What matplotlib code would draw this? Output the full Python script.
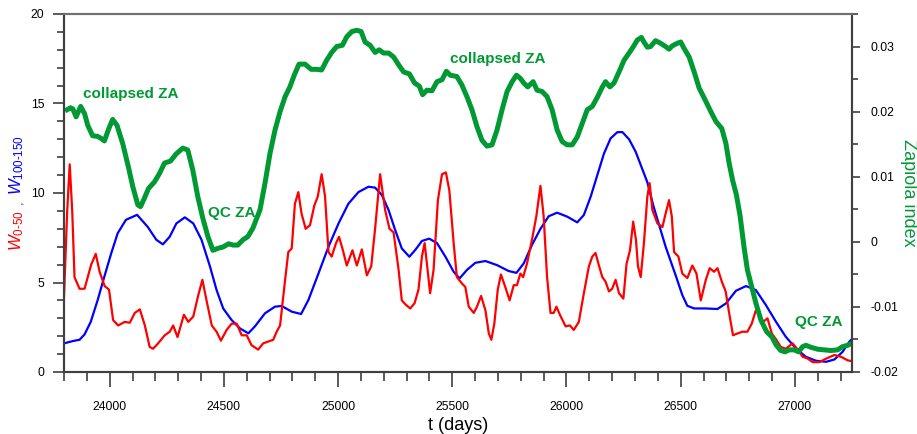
import matplotlib
matplotlib.use("Agg")
import matplotlib.pyplot as plt
from matplotlib.ticker import MultipleLocator

plt.rcParams['font.family'] = ['Liberation Sans', 'DejaVu Sans']
plt.rcParams['mathtext.fontset'] = 'custom'
plt.rcParams['mathtext.rm'] = 'Liberation Sans'
plt.rcParams['mathtext.it'] = 'Liberation Sans:italic'

# W_0-50 (red)
red_t = [23800, 23814, 23825, 23836, 23846, 23868, 23890, 23919, 23939, 23956,
         23978, 23997, 24015, 24037, 24066, 24088, 24110, 24132, 24154, 24175,
         24190, 24212, 24241, 24263, 24278, 24297, 24325, 24344, 24366, 24388,
         24406, 24424, 24447, 24468, 24487, 24512, 24534, 24556, 24578, 24600,
         24621, 24650, 24672, 24694, 24716, 24731, 24746, 24765, 24782, 24797,
         24811, 24826, 24840, 24858, 24877, 24896, 24911, 24928, 24943, 24958,
         24972, 24991, 25004, 25019, 25038, 25063, 25082, 25104, 25126, 25145,
         25162, 25184, 25206, 25225, 25243, 25265, 25279, 25297, 25316, 25335,
         25352, 25367, 25379, 25389, 25403, 25418, 25437, 25455, 25472, 25487,
         25506, 25520, 25542, 25557, 25572, 25594, 25608, 25626, 25645, 25660,
         25671, 25684, 25699, 25713, 25732, 25751, 25769, 25783, 25798, 25810,
         25827, 25849, 25868, 25886, 25900, 25915, 25930, 25944, 25956, 25971,
         25996, 26015, 26032, 26054, 26076, 26098, 26113, 26127, 26142, 26157,
         26171, 26186, 26200, 26215, 26230, 26249, 26263, 26278, 26292, 26304,
         26313, 26325, 26339, 26354, 26364, 26376, 26398, 26420, 26434, 26449,
         26461, 26471, 26490, 26507, 26529, 26551, 26569, 26588, 26610, 26627,
         26646, 26661, 26680, 26697, 26712, 26729, 26748, 26770, 26792, 26811,
         26829, 26843, 26861, 26880, 26899, 26919, 26938, 26960, 26990, 27012,
         27034, 27056, 27078, 27107, 27137, 27173, 27202, 27231, 27253]
red_w = [4.2, 9.0, 11.6, 9.0, 5.3, 4.65, 4.65, 6.0, 6.6, 5.6,
         4.8, 4.6, 2.9, 2.6, 2.8, 2.75, 3.3, 3.5, 2.6, 1.4,
         1.3, 1.6, 2.05, 2.25, 2.6, 1.95, 3.2, 2.8, 3.1, 4.3,
         5.15, 4.0, 2.6, 2.25, 1.75, 2.35, 2.7, 2.7, 2.05, 2.05,
         1.5, 1.25, 1.6, 1.7, 1.8, 2.25, 2.6, 4.8, 6.7, 6.9,
         9.4, 10.05, 8.85, 8.0, 8.2, 9.3, 9.8, 11.05, 9.8, 6.7,
         6.45, 7.2, 7.55, 6.9, 5.95, 6.8, 5.95, 6.85, 5.4, 5.9,
         8.0, 11.05, 9.05, 8.0, 7.8, 5.7, 4.0, 3.75, 3.55, 3.85,
         4.6, 6.45, 7.2, 6.05, 4.4, 5.7, 9.6, 11.05, 11.15, 10.15,
         7.2, 5.3, 4.95, 4.75, 3.65, 3.3, 3.65, 4.25, 3.45, 2.15,
         1.8, 2.7, 4.6, 5.45, 4.75, 4.0, 4.85, 4.85, 5.5, 5.3,
         6.05, 7.4, 8.7, 10.4, 8.7, 5.3, 3.3, 3.3, 3.65, 3.2,
         2.55, 2.6, 2.35, 2.8, 4.4, 5.9, 6.45, 6.65, 5.95, 5.3,
         5.05, 4.5, 4.65, 5.15, 4.4, 4.1, 6.05, 6.8, 8.4, 7.4,
         5.9, 5.3, 7.2, 9.8, 10.55, 9.05, 8.3, 8.1, 8.85, 9.6,
         8.7, 6.7, 6.45, 5.5, 5.25, 5.95, 5.5, 4.0, 5.15, 5.8,
         5.6, 5.8, 5.05, 4.5, 3.3, 2.05, 2.15, 2.25, 2.25, 2.7,
         3.45, 3.3, 2.8, 3.0, 2.15, 1.8, 1.4, 1.3, 1.6, 1.25,
         0.85, 0.75, 0.55, 0.55, 0.75, 0.95, 0.85, 0.65, 0.6]

# W_100-150 (blue)
blue_t = [23800, 23839, 23868, 23890, 23917, 23947, 23976, 24006, 24035, 24071,
          24120, 24167, 24204, 24233, 24263, 24292, 24329, 24366, 24402, 24439,
          24468, 24497, 24534, 24570, 24607, 24636, 24680, 24724, 24753, 24797,
          24838, 24870, 24914, 24958, 25002, 25045, 25089, 25133, 25162, 25192,
          25221, 25250, 25279, 25312, 25338, 25367, 25399, 25433, 25470, 25506,
          25532, 25564, 25601, 25645, 25696, 25747, 25781, 25813, 25849, 25886,
          25922, 25959, 26003, 26047, 26076, 26106, 26135, 26164, 26193, 26223,
          26245, 26274, 26303, 26333, 26354, 26380, 26434, 26478, 26507, 26529,
          26559, 26610, 26661, 26698, 26742, 26786, 26829, 26873, 26917, 26960,
          27004, 27048, 27092, 27137, 27173, 27209, 27238, 27253]
blue_w = [1.6, 1.73, 1.8, 2.1, 2.8, 4.0, 5.3, 6.6, 7.75, 8.5,
          8.78, 8.1, 7.39, 7.13, 7.56, 8.3, 8.64, 8.3, 7.39, 5.9,
          4.58, 3.55, 2.9, 2.44, 2.16, 2.55, 3.28, 3.65, 3.69, 3.37,
          3.24, 4.02, 5.5, 7.0, 8.3, 9.4, 10.05, 10.35, 10.3, 9.88,
          9.05, 7.93, 6.9, 6.44, 6.82, 7.32, 7.45, 7.2, 6.44, 5.6,
          5.23, 5.7, 6.1, 6.2, 5.97, 5.64, 5.54, 6.07, 7.1, 8.0,
          8.7, 8.9, 8.68, 8.36, 8.77, 9.8, 11.0, 12.2, 13.05, 13.4,
          13.4, 13.0, 12.3, 11.3, 10.6, 9.3, 7.0, 5.4, 4.3, 3.7,
          3.55, 3.55, 3.52, 3.83, 4.54, 4.8, 4.58, 3.74, 2.81, 1.97,
          1.32, 0.85, 0.63, 0.57, 0.7, 1.13, 1.69, 1.88]

# Zapiola index (green, right axis)
za_t = [23814, 23829, 23839, 23853, 23873, 23890, 23904, 23925, 23947, 23962,
        23977, 23994, 24013, 24032, 24057, 24082, 24101, 24123, 24135, 24152,
        24170, 24196, 24218, 24240, 24266, 24291, 24320, 24342, 24364, 24386,
        24408, 24430, 24452, 24474, 24496, 24521, 24540, 24561, 24583, 24605,
        24627, 24658, 24680, 24702, 24724, 24746, 24768, 24789, 24808, 24829,
        24855, 24882, 24906, 24928, 24950, 24972, 24994, 25019, 25038, 25060,
        25082, 25101, 25118, 25140, 25162, 25180, 25199, 25221, 25243, 25265,
        25287, 25312, 25335, 25356, 25370, 25389, 25411, 25433, 25455, 25474,
        25491, 25520, 25542, 25564, 25586, 25608, 25630, 25652, 25674, 25696,
        25718, 25740, 25762, 25781, 25798, 25813, 25830, 25854, 25871, 25893,
        25915, 25937, 25959, 25981, 26003, 26025, 26047, 26069, 26091, 26113,
        26135, 26157, 26171, 26190, 26208, 26230, 26252, 26274, 26293, 26310,
        26328, 26339, 26354, 26368, 26390, 26412, 26434, 26449, 26463, 26485,
        26500, 26515, 26537, 26559, 26581, 26607, 26632, 26654, 26680, 26698,
        26712, 26727, 26744, 26760, 26778, 26792, 26811, 26829, 26851, 26876,
        26899, 26919, 26938, 26957, 26975, 26997, 27016, 27034, 27048, 27070,
        27100, 27129, 27158, 27187, 27209, 27231, 27253]
za_v = [0.0203, 0.0206, 0.0204, 0.0192, 0.0208, 0.0197, 0.0179, 0.0163, 0.0162, 0.0159,
        0.0155, 0.0172, 0.0188, 0.0179, 0.0151, 0.0115, 0.0085, 0.0057, 0.0054, 0.0067,
        0.0082, 0.0092, 0.0105, 0.0121, 0.0124, 0.0135, 0.0144, 0.0141, 0.0110, 0.0069,
        0.0036, 0.0008, -0.0013, -0.0010, -0.0008, -0.0003, -0.0005, -0.0005, 0.0003, 0.0008,
        0.0021, 0.0049, 0.0090, 0.0136, 0.0172, 0.0200, 0.0223, 0.0238, 0.0256, 0.0273,
        0.0273, 0.0265, 0.0265, 0.0264, 0.0279, 0.0291, 0.0300, 0.0302, 0.0315, 0.0323,
        0.0325, 0.0323, 0.0307, 0.0302, 0.0291, 0.0295, 0.0290, 0.0290, 0.0284, 0.0272,
        0.0261, 0.0258, 0.0244, 0.0239, 0.0226, 0.0233, 0.0232, 0.0246, 0.0249, 0.0262,
        0.0256, 0.0254, 0.0241, 0.0223, 0.0203, 0.0177, 0.0156, 0.0147, 0.0149, 0.0172,
        0.0203, 0.0231, 0.0246, 0.0256, 0.0251, 0.0244, 0.0238, 0.0246, 0.0233, 0.0231,
        0.0223, 0.0203, 0.0172, 0.0154, 0.0149, 0.0149, 0.0161, 0.0182, 0.0203, 0.0208,
        0.0222, 0.0238, 0.0246, 0.0238, 0.0244, 0.0261, 0.0279, 0.0290, 0.0300, 0.0310,
        0.0314, 0.0307, 0.0299, 0.0300, 0.0309, 0.0305, 0.0300, 0.0296, 0.0301, 0.0305,
        0.0307, 0.0297, 0.0284, 0.0261, 0.0236, 0.0218, 0.0200, 0.0185, 0.0174, 0.0151,
        0.0121, 0.0095, 0.0072, 0.0040, -0.0010, -0.0043, -0.0069, -0.0094, -0.0120, -0.0138,
        -0.0146, -0.0159, -0.0167, -0.0169, -0.0166, -0.0166, -0.0169, -0.0161, -0.0159, -0.0162,
        -0.0165, -0.0166, -0.0167, -0.0166, -0.0161, -0.0159, -0.0155]

# annotations: (text, day, left-axis value)
notes = [("collapsed ZA", 23882, 15.53),
         ("QC ZA", 24430, 8.88),
         ("collapsed ZA", 25491, 17.49),
         ("QC ZA", 27002, 2.82)]

RED = '#ff0000'
BLUE = '#0000ff'
GREEN = '#009933'
SPINE = '#404040'

W, H = 917, 434
fig = plt.figure(figsize=(W / 100, H / 100), dpi=100)
ax = fig.add_axes([64 / W, 1 - 372 / H, 788 / W, 358 / H])
ax2 = ax.twinx()

ax.plot(red_t, red_w, color=RED, lw=1.6, zorder=3)
ax.plot(blue_t, blue_w, color=BLUE, lw=1.6, zorder=2)
ax2.plot(za_t, za_v, color=GREEN, lw=3.6, solid_joinstyle='round')

ax.set_xlim(23800, 27250)
ax.set_ylim(0, 20)
ax2.set_ylim(-0.02, 0.035)

ax.xaxis.set_major_locator(MultipleLocator(500))
ax.xaxis.set_minor_locator(MultipleLocator(100))
ax.yaxis.set_major_locator(MultipleLocator(5))
ax.yaxis.set_minor_locator(MultipleLocator(1))
ax2.yaxis.set_minor_locator(MultipleLocator(0.005))
ax2.set_yticks([-0.02, -0.01, 0, 0.01, 0.02, 0.03])
ax2.set_yticklabels(['-0.02', '-0.01', '0', '0.01', '0.02', '0.03'])

for a in (ax, ax2):
    for s in a.spines.values():
        s.set_color(SPINE)
        s.set_linewidth(1.5)
    a.spines['top'].set_color('#707070')
ax.tick_params(axis='x', which='major', direction='out', length=11, width=1.2,
               color=SPINE, labelsize=8.8, pad=10)
ax.tick_params(axis='x', which='minor', direction='out', length=6.5, width=1.2, color=SPINE)
ax.tick_params(axis='y', which='major', direction='out', length=8, width=1.2,
               color=SPINE, labelsize=8.8, pad=6)
ax.tick_params(axis='y', which='minor', direction='out', length=5, width=1.2, color=SPINE)
ax2.tick_params(axis='y', which='major', direction='out', length=6, width=1.2,
                color=SPINE, labelsize=8.8, pad=7)
ax2.tick_params(axis='y', which='minor', direction='out', length=4, width=1.2, color=SPINE)

for txt, x, y in notes:
    ax2.text(x, ax2.get_ylim()[0] + (y / 20) * 0.055, txt, color=GREEN, fontsize=11,
             fontweight='bold', ha='left', va='center', zorder=5)

# axis titles
fig.text(458 / W, 1 - 426 / H, 't (days)', fontsize=13, ha='center', va='center')
fig.text(908 / W, 1 - 193 / H, 'Zapiola index', fontsize=13, color=GREEN,
         rotation=270, ha='center', va='center')
fig.text(21.7 / W, 1 - 251 / H, r'$W_{\text{0-50}}$', fontsize=12, color=RED,
         rotation=90, rotation_mode='anchor', ha='left', va='baseline')
fig.text(22.5 / W, 1 - 204 / H, ',', fontsize=9, color='#333333',
         rotation=90, rotation_mode='anchor', ha='left', va='baseline')
fig.text(21.7 / W, 1 - 195 / H, r'$W_{\text{100-150}}$', fontsize=12, color=BLUE,
         rotation=90, rotation_mode='anchor', ha='left', va='baseline')

fig.savefig('out.png', dpi=100)
